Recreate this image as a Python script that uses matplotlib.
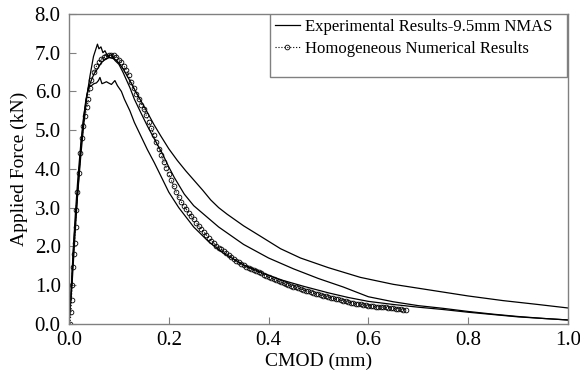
import matplotlib
matplotlib.use("Agg")
import matplotlib.pyplot as plt
from matplotlib.patches import Rectangle

# Experimental curve 1 (peak ~6.9, highest tail)
e1_x = [0, 0.006, 0.012, 0.018, 0.024, 0.03, 0.036, 0.042, 0.05, 0.058, 0.065, 0.072, 0.08, 0.088,
        0.095, 0.102, 0.11, 0.12, 0.131, 0.144, 0.157, 0.17, 0.184, 0.2, 0.217, 0.234, 0.251, 0.268,
        0.284, 0.3, 0.317, 0.35, 0.384, 0.424, 0.464, 0.52, 0.584, 0.65, 0.73, 0.8, 0.87, 0.94, 1.0]
e1_y = [0, 1.0, 2.3, 3.5, 4.6, 5.4, 5.9, 6.2, 6.45, 6.6, 6.75, 6.82, 6.88, 6.85,
        6.8, 6.7, 6.55, 6.32, 6.06, 5.76, 5.46, 5.15, 4.85, 4.52, 4.22, 3.95, 3.7, 3.45,
        3.2, 3.0, 2.83, 2.53, 2.26, 1.94, 1.70, 1.45, 1.2, 1.02, 0.86, 0.72, 0.6, 0.5, 0.41]

# Experimental curve 2 (peak ~7.2)
e2_x = [0, 0.005, 0.01, 0.017, 0.024, 0.03, 0.036, 0.042, 0.049, 0.054, 0.057, 0.06, 0.064, 0.068,
        0.072, 0.078, 0.085, 0.092, 0.1, 0.108, 0.115, 0.122, 0.131, 0.144, 0.157, 0.172, 0.187,
        0.2, 0.211, 0.231, 0.25, 0.3, 0.35, 0.4, 0.45, 0.5, 0.55, 0.6, 0.65, 0.7, 0.75, 0.8, 0.85,
        0.9, 0.95, 1.0]
e2_y = [0, 1.0, 2.2, 3.3, 4.4, 5.2, 5.9, 6.4, 6.9, 7.1, 7.22, 7.1, 7.15, 7.0,
        7.05, 6.9, 6.95, 6.8, 6.7, 6.5, 6.3, 6.1, 5.8, 5.45, 5.11, 4.75, 4.4,
        4.05, 3.78, 3.35, 3.05, 2.5, 2.05, 1.7, 1.42, 1.17, 0.95, 0.7, 0.57, 0.47, 0.4, 0.32, 0.25,
        0.19, 0.14, 0.1]

# Experimental curve 3 (plateau ~6.2, steepest decay)
e3_x = [0, 0.004, 0.008, 0.013, 0.018, 0.024, 0.029, 0.034, 0.039, 0.045, 0.05, 0.055, 0.059, 0.062,
        0.066, 0.07, 0.075, 0.079, 0.085, 0.092, 0.097, 0.105, 0.111, 0.122, 0.131, 0.144, 0.157,
        0.171, 0.184, 0.2, 0.22, 0.25, 0.28, 0.31, 0.35, 0.39, 0.424, 0.47, 0.52, 0.56, 0.6, 0.65,
        0.7, 0.75, 0.8, 0.85, 0.9, 0.95, 1.0]
e3_y = [0, 0.8, 1.8, 2.9, 3.8, 4.7, 5.3, 5.8, 6.1, 6.15, 6.2, 6.22, 6.28, 6.36,
        6.2, 6.22, 6.25, 6.22, 6.18, 6.28, 6.15, 6.0, 5.8, 5.5, 5.2, 4.85, 4.5,
        4.16, 3.82, 3.4, 3.0, 2.5, 2.12, 1.82, 1.52, 1.3, 1.14, 0.97, 0.8, 0.68, 0.58, 0.5,
        0.43, 0.37, 0.3, 0.24, 0.18, 0.14, 0.1]

# Homogeneous numerical results
num_x = [0.002, 0.004, 0.005, 0.006, 0.007, 0.009, 0.011, 0.013, 0.014, 0.017, 0.02, 0.023, 0.026,
         0.029, 0.032, 0.036, 0.039, 0.042, 0.045, 0.05, 0.055, 0.06, 0.065, 0.07, 0.075, 0.08,
         0.085, 0.09, 0.095, 0.1, 0.105, 0.11, 0.115, 0.12, 0.125, 0.13, 0.135, 0.14, 0.145, 0.15,
         0.155, 0.16, 0.165, 0.17, 0.175, 0.18, 0.185, 0.19, 0.195, 0.2, 0.205, 0.21, 0.215, 0.22,
         0.225, 0.23, 0.235, 0.24, 0.245, 0.25, 0.255, 0.26, 0.265, 0.27, 0.275, 0.28, 0.285, 0.29,
         0.295, 0.3, 0.305, 0.31, 0.315, 0.32, 0.325, 0.33, 0.335, 0.34, 0.345, 0.35, 0.355, 0.36,
         0.365, 0.37, 0.375, 0.38, 0.385, 0.39, 0.395, 0.4, 0.405, 0.41, 0.415, 0.42, 0.425, 0.43,
         0.435, 0.44, 0.445, 0.45, 0.455, 0.46, 0.465, 0.47, 0.475, 0.48, 0.485, 0.49, 0.495, 0.5,
         0.505, 0.51, 0.515, 0.52, 0.525, 0.53, 0.535, 0.54, 0.545, 0.55, 0.555, 0.56, 0.565, 0.57,
         0.575, 0.58, 0.585, 0.59, 0.595, 0.6, 0.605, 0.61, 0.615, 0.62, 0.625, 0.63, 0.635, 0.64,
         0.645, 0.65, 0.655, 0.66, 0.665, 0.67, 0.675]
num_y = [0.0, 0.3, 0.62, 1.0, 1.48, 1.8, 2.09, 2.5, 2.95, 3.4, 3.9, 4.4, 4.8,
         5.1, 5.37, 5.6, 5.8, 6.1, 6.3, 6.5, 6.65, 6.75, 6.84, 6.88, 6.92, 6.93,
         6.94, 6.93, 6.9, 6.82, 6.75, 6.66, 6.55, 6.42, 6.25, 6.08, 5.93, 5.8, 5.66, 5.54,
         5.38, 5.22, 5.06, 4.88, 4.7, 4.52, 4.36, 4.19, 4.02, 3.86, 3.71, 3.55, 3.4, 3.27,
         3.15, 3.05, 2.96, 2.87, 2.78, 2.7, 2.61, 2.53, 2.45, 2.37, 2.3, 2.22, 2.15, 2.08,
         2.02, 1.97, 1.92, 1.87, 1.82, 1.77, 1.72, 1.67, 1.63, 1.59, 1.55, 1.51, 1.48, 1.45,
         1.42, 1.39, 1.36, 1.33, 1.3, 1.27, 1.24, 1.21, 1.18, 1.15, 1.12, 1.1, 1.07, 1.05,
         1.02, 1.0, 0.98, 0.96, 0.94, 0.92, 0.9, 0.88, 0.86, 0.84, 0.82, 0.8, 0.78, 0.77,
         0.75, 0.73, 0.71, 0.7, 0.68, 0.66, 0.64, 0.63, 0.61, 0.6, 0.58, 0.57, 0.55, 0.54,
         0.52, 0.51, 0.5, 0.49, 0.48, 0.47, 0.46, 0.45, 0.445, 0.44, 0.435, 0.43, 0.425, 0.42,
         0.41, 0.4, 0.395, 0.39, 0.38, 0.37, 0.36]

x_ticks = [0.0, 0.2, 0.4, 0.6, 0.8, 1.0]
y_ticks = [0.0, 1.0, 2.0, 3.0, 4.0, 5.0, 6.0, 7.0, 8.0]

plt.rcParams['font.family'] = ['Liberation Serif', 'DejaVu Serif']

fig = plt.figure(figsize=(5.8, 3.77), dpi=100)
ax = fig.add_axes([0.119, 0.141, 0.860, 0.822])

ax.plot(e1_x, e1_y, color='black', lw=0.9, label='Experimental Results-9.5mm NMAS')
ax.plot(e2_x, e2_y, color='black', lw=0.9)
ax.plot(e3_x, e3_y, color='black', lw=0.9)
ax.plot(num_x, num_y, color='black', lw=0.8, ls=':', marker='o', ms=3.4, mfc='none',
        mec='black', mew=0.6, label='Homogeneous Numerical Results')

ax.set_xlim(0, 1.0)
ax.set_ylim(0, 8.0)
ax.set_xticks(x_ticks)
ax.set_yticks(y_ticks)
ax.set_xticklabels([f"{v:.1f}" for v in x_ticks])
ax.set_yticklabels([f"{v:.1f}" for v in y_ticks])
ax.tick_params(direction='in', length=5, width=0.8, color='#808080', labelsize=15)
ax.tick_params(axis='x', pad=5)
ax.tick_params(axis='y', pad=6)
for s in ax.spines.values():
    s.set_color('#808080')
    s.set_linewidth(1.0)

ax.set_xlabel('CMOD (mm)', fontsize=14, labelpad=2)
ax.set_ylabel('Applied Force (kN)', fontsize=14, labelpad=5)

# legend frame
ax.add_patch(Rectangle((0.403, 0.796), 0.595, 0.204, transform=ax.transAxes,
                       facecolor='white', edgecolor='#808080', lw=1.0, zorder=4))
leg = ax.legend(loc='upper left', bbox_to_anchor=(0.403, 1.0), fontsize=12, frameon=False,
                numpoints=1, handlelength=1.5, borderaxespad=0.0, borderpad=0.28,
                handletextpad=0.3, labelspacing=0.38)
leg.set_zorder(5)

fig.savefig('out.png', dpi=100)
